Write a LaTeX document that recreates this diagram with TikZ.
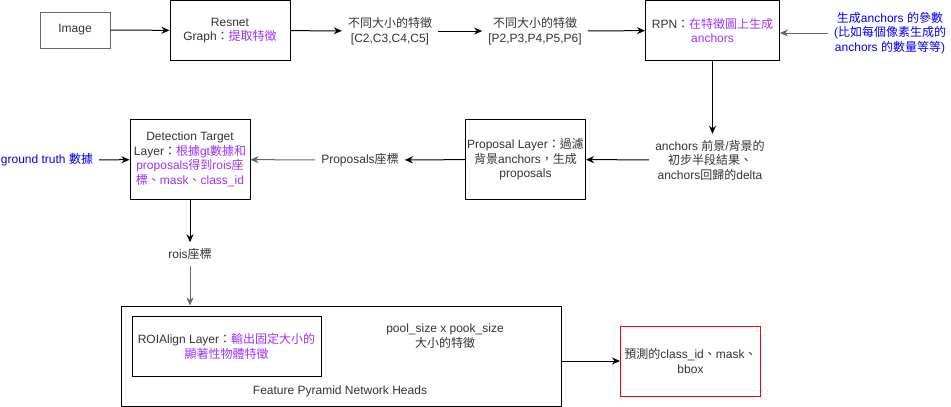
\documentclass[tikz,border=0pt]{standalone}
\usepackage{fontspec}
\setmainfont{Liberation Sans}
\newfontfamily\zhfont{Noto Sans CJK TC}
\newcommand\zh[1]{{\zhfont #1}}
\usetikzlibrary{arrows.meta,positioning}
\definecolor{hilite}{RGB}{153,51,255}
\definecolor{note}{RGB}{0,0,255}
\definecolor{txt}{RGB}{51,51,51}
\definecolor{edgegray}{RGB}{102,102,102}
\newcommand\hl[1]{\textcolor{hilite}{#1}}
\tikzset{
  box/.style   = {draw, line width=1pt, align=center, inner sep=0pt, text=txt,
                  font=\fontsize{12}{14.5}\selectfont},
  label/.style = {align=center, inner sep=6pt, text=txt,
                  font=\fontsize{12}{14.5}\selectfont},
  link/.style  = {-{Stealth[length=8pt,width=7pt]}, line width=1pt}
}

\begin{document}
\begin{tikzpicture}[x=1pt,y=-1pt]
\useasboundingbox (0,0) rectangle (951,407);
% top row
\node[box, draw=edgegray, minimum width=70pt, minimum height=36pt] (image) at (75,30) {Image};
\node[box, minimum width=120pt, minimum height=60pt] (resnet) at (230,30.5) {Resnet\\Graph\zh{：}\hl{\zh{提取特徵}}};
\node[label] (cfeat) at (390,31) {\zh{不同大小的特徵}\\{}[C2,C3,C4,C5]};
\node[label] (pfeat) at (535,31) {\zh{不同大小的特徵}\\{}[P2,P3,P4,P5,P6]};
\node[box, minimum width=134pt, minimum height=60pt] (rpn) at (712.5,30.5) {RPN\zh{：}\hl{\zh{在特徵圖上生成}}\\\hl{anchors}};
\node[label, text=note] (params) at (890,33) {\zh{生成}anchors \zh{的參數}\\(\zh{比如每個像素生成的}\\anchors \zh{的數量等等})};
% middle row
\node[label] (delta) at (710,160) {anchors \zh{前景}/\zh{背景的}\\\zh{初步半段結果、}\\anchors\zh{回歸的}delta};
\node[box, minimum width=120pt, minimum height=80pt] (proposal) at (525.5,159.5) {Proposal Layer\zh{：過濾}\\\zh{背景}anchors\zh{，生成}\\proposals};
\node[label] (coords) at (360,160) {Proposals\zh{座標}};
\node[box, minimum width=120pt, minimum height=80pt] (target) at (190,159.5) {Detection Target\\Layer\zh{：}\hl{\zh{根據}gt\zh{數據和}}\\\hl{proposals\zh{得到}rois\zh{座}}\\\hl{\zh{標、}mask\zh{、}class\_id}};
\node[label, text=note] (gt) at (47,160) {ground truth \zh{數據}};
\node[label] (rois) at (190,254) {rois\zh{座標}};
% heads
\node[box, minimum width=440pt, minimum height=100pt] (fpn) at (341,356) {};
\node[label] (heads) at (340,391) {Feature Pyramid Network Heads};
\node[box, minimum width=189pt, minimum height=60pt] (roialign) at (226.5,346.5) {ROIAlign Layer\zh{：}\hl{\zh{輸出固定大小的}}\\\hl{\zh{顯著性物體特徵}}};
\node[label] (pooled) at (445,336) {pool\_size x pook\_size\\\zh{大小的特徵}};
\node[box, draw=red, minimum width=140pt, minimum height=70pt] (predict) at (690.5,361) {\zh{預測的}class\_id\zh{、}mask\zh{、}\\bbox};

\draw[link] (image) -- (resnet);
\draw[link] (resnet) -- (cfeat);
\draw[link] (cfeat) -- (pfeat);
\draw[link] (pfeat) -- (rpn);
\draw[link, draw=edgegray] (params.west) -- (params.west -| rpn.east);
\draw[link] (rpn.south) -- (rpn.south |- delta.north);
\draw[link] (delta) -- (proposal);
\draw[link] (proposal) -- (coords);
\draw[link, draw=edgegray] (coords) -- (target);
\draw[link] (gt) -- (target);
\draw[link] (target) -- (rois);
\draw[link, draw=edgegray] (rois.south) -- (rois.south |- fpn.north);
\draw[link] (fpn.east |- predict.west) -- (predict);
\end{tikzpicture}
\end{document}
